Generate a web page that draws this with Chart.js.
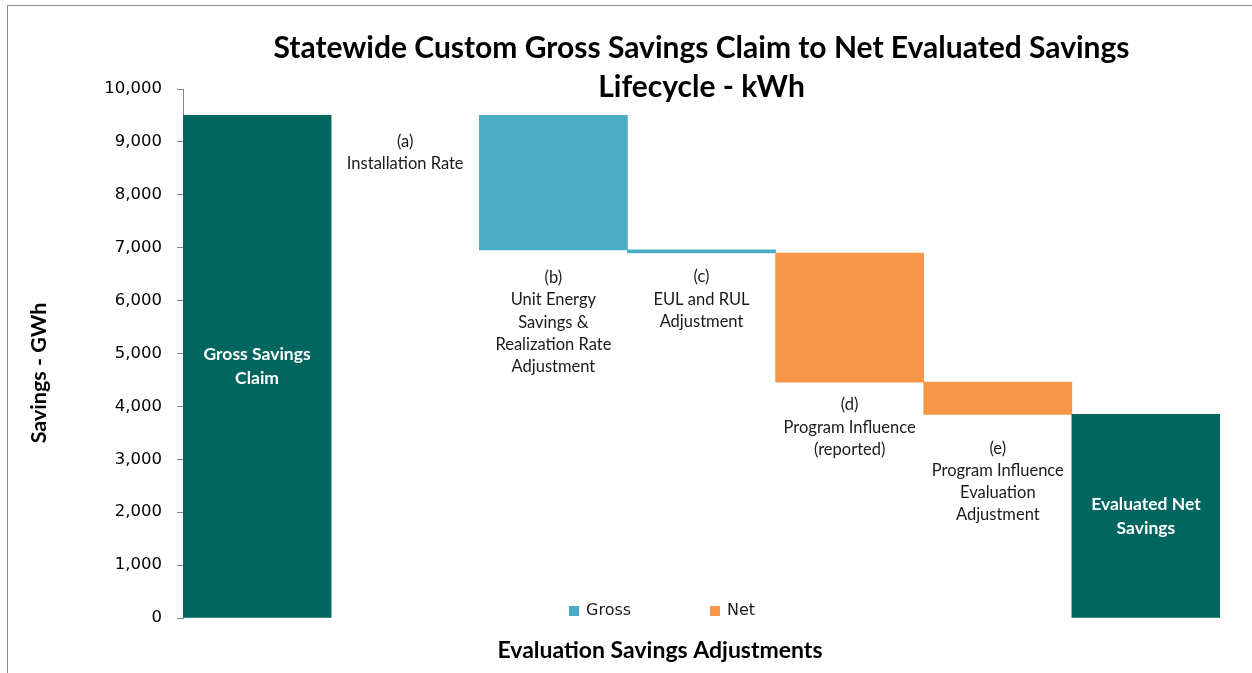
<!DOCTYPE html>
<html>
<head>
<meta charset="utf-8">
<title>Statewide Custom Gross Savings Claim to Net Evaluated Savings</title>
<script src="https://cdn.jsdelivr.net/npm/chart.js@4.4.1/dist/chart.umd.min.js"></script>
<style>
  html, body { margin: 0; padding: 0; background: #ffffff; }
  canvas { display: block; }
</style>
</head>
<body>
<canvas id="waterfallChart" width="1252" height="673"></canvas>
<script>
document.addEventListener("DOMContentLoaded", function () {
  // category labels, one line per entry
  const stepLabels = [
    ["Gross Savings", "Claim"],
    ["(a)", "Installation Rate"],
    ["(b)", "Unit Energy", "Savings &", "Realization Rate", "Adjustment"],
    ["(c)", "EUL and RUL", "Adjustment"],
    ["(d)", "Program Influence", "(reported)"],
    ["(e)", "Program Influence", "Evaluation", "Adjustment"],
    ["Evaluated Net", "Savings"],
  ];

  // GWh values
  const grossClaim = 9500;
  const adjustments = [0, -2540, -60, -2440, -610];
  const adjustmentType = ["Gross", "Gross", "Gross", "Net", "Net"];
  const evaluatedNet = 3850;

  const yTickMax = 10000;
  const yTickStep = 1000;

  const colors = {
    total: "#01665f",
    Gross: "#4bacc6",
    Net: "#f79646",
  };

  const textFont = "Lato, 'Open Sans', sans-serif";
  const tickFont = "'DejaVu Sans', Verdana, sans-serif";

  // build floating bars from the running total
  const totalData = stepLabels.map(() => null);
  const grossData = stepLabels.map(() => null);
  const netData = stepLabels.map(() => null);
  const stepBottoms = [];

  totalData[0] = [0, grossClaim];
  let running = grossClaim;
  adjustments.forEach((change, i) => {
    const next = running + change;
    const range = [Math.min(running, next), Math.max(running, next)];
    // a zero change gets no bar at all
    if (change !== 0) {
      if (adjustmentType[i] === "Gross") grossData[i + 1] = range;
      else netData[i + 1] = range;
    }
    stepBottoms.push(range[0]);
    running = next;
  });
  totalData[stepLabels.length - 1] = [0, evaluatedNet];

  // extra drop below each step for its text, in pixels
  const labelGap = [26, 28, 24, 23, 34];

  const chartDecor = {
    id: "chartDecor",
    beforeDraw(chart) {
      const ctx = chart.ctx;
      ctx.save();
      ctx.fillStyle = "#ffffff";
      ctx.fillRect(0, 0, chart.width, chart.height);
      ctx.strokeStyle = "#8c8c8c";
      ctx.lineWidth = 1;
      ctx.strokeRect(7.5, 5.5, chart.width + 20, chart.height + 20);
      ctx.restore();
    },
    afterDraw(chart) {
      const ctx = chart.ctx;
      const x = chart.scales.x;
      const y = chart.scales.y;
      const area = chart.chartArea;
      ctx.save();
      ctx.textAlign = "center";
      ctx.textBaseline = "middle";

      // title
      ctx.fillStyle = "#000000";
      ctx.font = "bold 30px " + textFont;
      const cx = (area.left + area.right) / 2;
      ctx.fillText("Statewide Custom Gross Savings Claim to Net Evaluated Savings", cx, 48);
      ctx.fillText("Lifecycle - kWh", cx, 87);

      // axis titles
      ctx.font = "bold 23px " + textFont;
      ctx.fillText("Evaluation Savings Adjustments", 660, 651);
      ctx.save();
      ctx.translate(39, 373);
      ctx.rotate(-Math.PI / 2);
      ctx.font = "bold 21.5px " + textFont;
      ctx.fillText("Savings - GWh", 0, 0);
      ctx.restore();

      // white labels inside the total bars
      ctx.fillStyle = "#ffffff";
      ctx.font = "bold 17.5px " + textFont;
      [0, stepLabels.length - 1].forEach((i) => {
        const top = y.getPixelForValue(totalData[i][1]);
        const mid = (top + y.getPixelForValue(0)) / 2;
        const lines = stepLabels[i];
        lines.forEach((line, k) => {
          ctx.fillText(line, x.getPixelForValue(i), mid + (k - (lines.length - 1) / 2) * 24);
        });
      });

      // adjustment labels under each step
      ctx.fillStyle = "#1a1a1a";
      ctx.font = "16.5px " + textFont;
      stepBottoms.forEach((bottom, i) => {
        const top = y.getPixelForValue(bottom) + labelGap[i];
        stepLabels[i + 1].forEach((line, k) => {
          ctx.fillText(line, x.getPixelForValue(i + 1), top + k * 22.2);
        });
      });

      // legend
      ctx.font = "16px " + tickFont;
      ctx.textAlign = "left";
      [["Gross", 569], ["Net", 710]].forEach(([name, lx]) => {
        ctx.fillStyle = colors[name];
        ctx.fillRect(lx, 606, 10, 10);
        ctx.fillStyle = "#1a1a1a";
        ctx.fillText(name, lx + 17, 611);
      });
      ctx.restore();
    },
  };

  const barStyle = {
    grouped: false,
    barPercentage: 1,
    categoryPercentage: 1,
    borderWidth: 0,
  };

  new Chart(document.getElementById("waterfallChart").getContext("2d"), {
    type: "bar",
    data: {
      labels: stepLabels.map((l) => l.join(" ")),
      datasets: [
        Object.assign({ label: "Total", data: totalData, backgroundColor: colors.total }, barStyle),
        Object.assign({ label: "Gross", data: grossData, backgroundColor: colors.Gross }, barStyle),
        Object.assign({ label: "Net", data: netData, backgroundColor: colors.Net }, barStyle),
      ],
    },
    options: {
      responsive: false,
      animation: false,
      layout: { padding: { left: 0, top: 89, right: 32, bottom: 55 } },
      plugins: {
        legend: { display: false },
        title: { display: false },
        tooltip: { enabled: false },
      },
      scales: {
        x: { display: false },
        y: {
          min: 0,
          max: yTickMax,
          afterFit(scale) {
            scale.width = 183;
          },
          ticks: {
            stepSize: yTickStep,
            padding: 15,
            color: "#000000",
            font: { family: tickFont, size: 16.5 },
            callback: (v) => v.toLocaleString("en-US"),
          },
          grid: {
            drawOnChartArea: false,
            drawTicks: true,
            tickLength: 6,
            color: "#868686",
          },
          border: { color: "#868686", width: 1 },
        },
      },
    },
    plugins: [chartDecor],
  });
});
</script>
</body>
</html>
